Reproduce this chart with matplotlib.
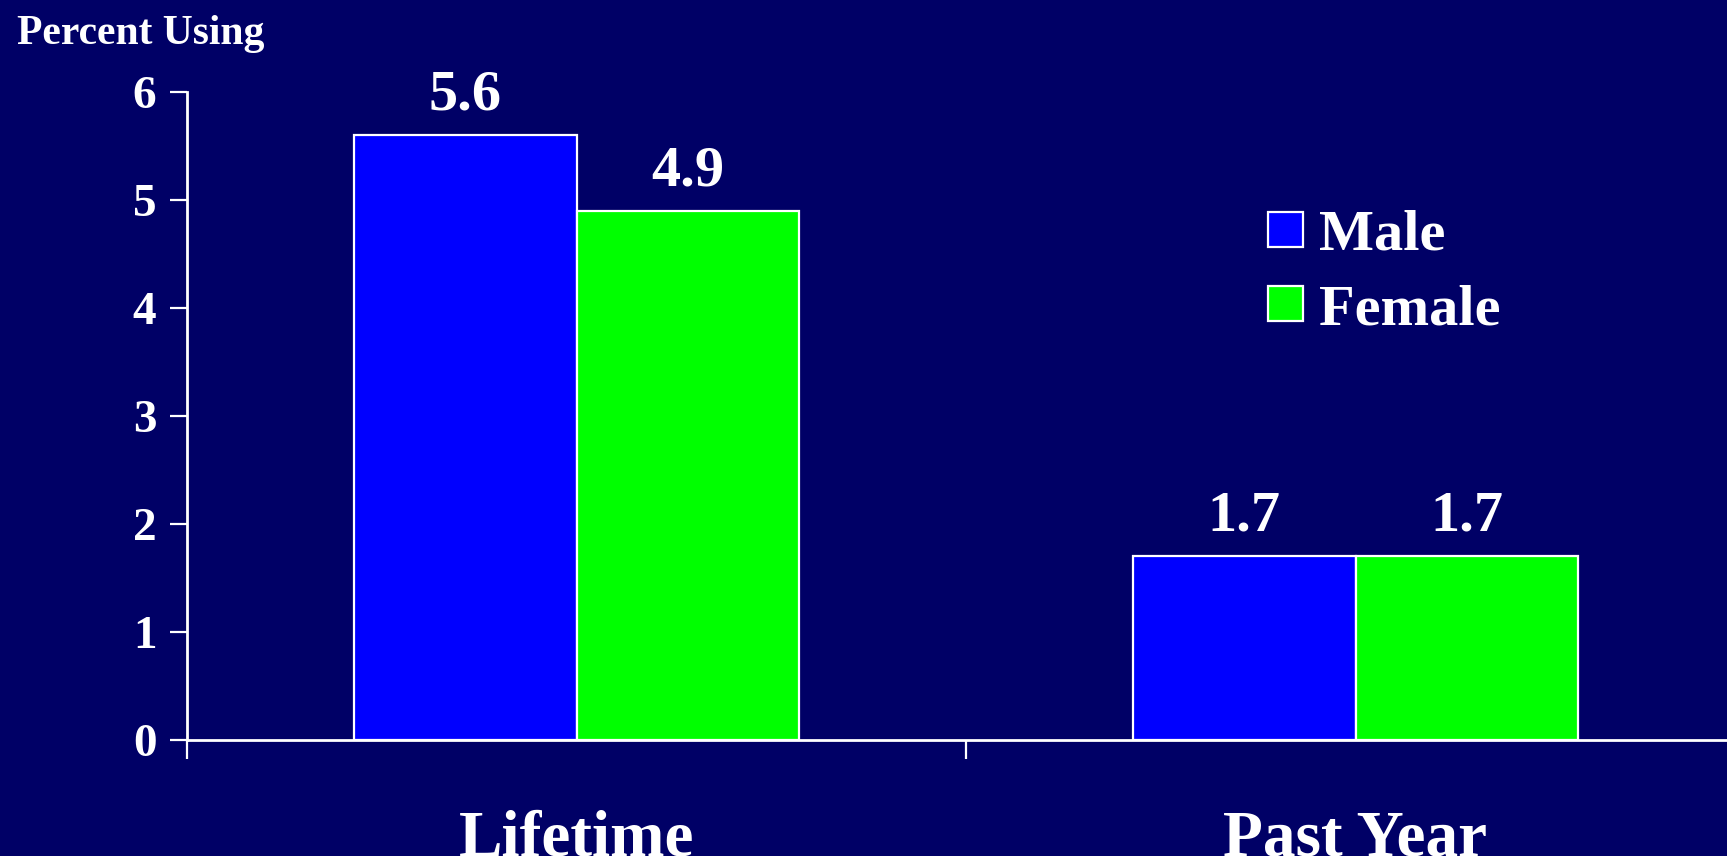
import matplotlib
matplotlib.use("Agg")
import matplotlib.pyplot as plt
import numpy as np

categories = ["Lifetime", "Past Year"]
series_names = ["Male", "Female"]
male = [5.6, 1.7]
female = [4.9, 1.7]
value_labels_male = ["5.6", "1.7"]
value_labels_female = ["4.9", "1.7"]
yticks = [0, 1, 2, 3, 4, 5, 6]

BG = "#000066"
W, H = 1727, 856
fig = plt.figure(figsize=(W / 100, H / 100), dpi=100, facecolor=BG)
plt.rcParams["font.family"] = ["Liberation Serif", "DejaVu Serif"]
plt.rcParams["font.weight"] = "bold"

left, right, bottom, top = 187, 1745, 740, 92
ax = fig.add_axes([left / W, (H - bottom) / H, (right - left) / W, (bottom - top) / H])
ax.set_facecolor(BG)

centers = np.array([0.5, 1.5])
bw = 0.286
b1 = ax.bar(centers - bw / 2, male, width=bw, color="#0000FF", edgecolor="white", linewidth=1.6, label=series_names[0])
b2 = ax.bar(centers + bw / 2, female, width=bw, color="#00FF00", edgecolor="white", linewidth=1.6, label=series_names[1])

for bars, labs in ((b1, value_labels_male), (b2, value_labels_female)):
    for rect, lab in zip(bars, labs):
        ax.annotate(lab, (rect.get_x() + rect.get_width() / 2, rect.get_height()),
                    xytext=(0, 18.5), textcoords="offset points", ha="center", va="baseline",
                    color="white", fontsize=42, fontweight="bold")

ax.set_xlim(0, 2)
ax.set_ylim(0, 6)
ax.set_yticks(yticks)
ax.set_yticklabels([str(t) for t in yticks])
ax.set_xticks([0, 1, 2])
ax.set_xticklabels([])
ax.set_xticks(centers, minor=True)
ax.set_xticklabels(categories, minor=True)

for s in ("top", "right"):
    ax.spines[s].set_visible(False)
for s in ("left", "bottom"):
    ax.spines[s].set_color("white")
    ax.spines[s].set_linewidth(2)

ax.tick_params(axis="y", which="major", direction="out", length=12, width=1.6, color="white",
               labelcolor="white", labelsize=34, pad=10)
ax.tick_params(axis="x", which="major", direction="out", length=14, width=1.6, color="white")
ax.tick_params(axis="x", which="minor", length=0, labelcolor="white", labelsize=47, pad=50)
for lab in ax.get_yticklabels() + ax.get_xticklabels(minor=True):
    lab.set_fontweight("bold")

fig.text(17 / W, (H - 44) / H, "Percent Using", color="white", fontsize=30, fontweight="bold",
         ha="left", va="baseline")

leg = ax.legend(loc="upper left", bbox_to_anchor=(1268 / W, (H - 210) / H),
                bbox_transform=fig.transFigure, frameon=False, fontsize=42,
                handlelength=0.6, handleheight=0.55, handletextpad=0.28, labelspacing=0.38,
                borderpad=0, borderaxespad=0)
for t in leg.get_texts():
    t.set_color("white")
    t.set_fontweight("bold")
for p in leg.get_patches():
    p.set_edgecolor("white")
    p.set_linewidth(1.6)

fig.savefig("out.png", dpi=100, facecolor=BG)
